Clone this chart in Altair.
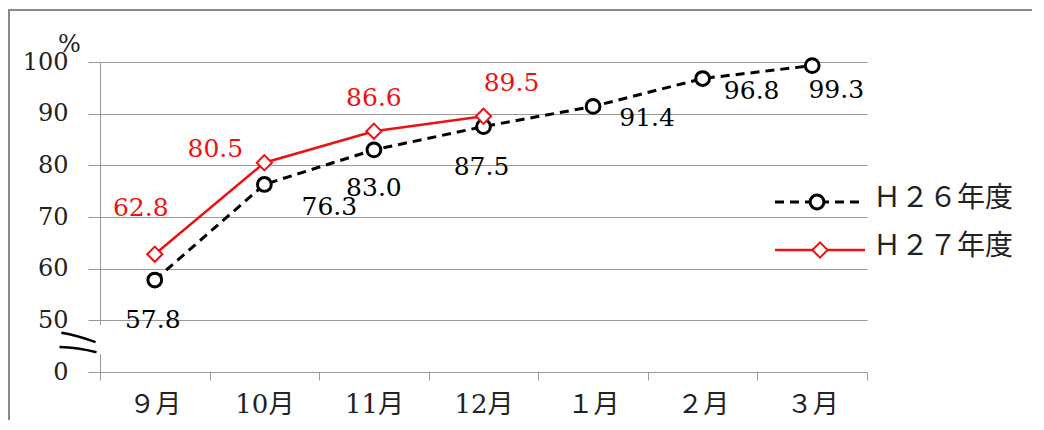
import altair as alt
import pandas as pd

months = ["９月", "10月", "11月", "12月", "１月", "２月", "３月"]
h26_values = [57.8, 76.3, 83.0, 87.5, 91.4, 96.8, 99.3]
h27_values = [62.8, 80.5, 86.6, 89.5]
series_names = ["Ｈ２６年度", "Ｈ２７年度"]
y_ticks = [40, 50, 60, 70, 80, 90, 100]

rows = []
for m, v in zip(months, h26_values):
    rows.append({"month": m, "value": v, "series": series_names[0]})
for m, v in zip(months, h27_values):
    rows.append({"month": m, "value": v, "series": series_names[1]})
df = pd.DataFrame(rows)

# label offsets (layout only)
label_offsets = {
    (series_names[0], "９月"): (-2, 40),
    (series_names[0], "10月"): (65, 23),
    (series_names[0], "11月"): (0, 38),
    (series_names[0], "12月"): (-2, 40),
    (series_names[0], "１月"): (54, 12),
    (series_names[0], "２月"): (49, 12),
    (series_names[0], "３月"): (24, 24),
    (series_names[1], "９月"): (-14, -46),
    (series_names[1], "10月"): (-49, -14),
    (series_names[1], "11月"): (0, -33),
    (series_names[1], "12月"): (28, -33),
}

BLACK = "#000000"
RED = "#ee1111"
GRID = "#9a9a9a"
NUMFONT = "DejaVu Serif"
JPFONT = "DejaVu Serif, Noto Sans CJK JP"

x_enc = alt.X(
    "month:N",
    sort=months,
    bandPosition=0.5,
    scale=alt.Scale(type="band", paddingInner=0, paddingOuter=0),
    axis=alt.Axis(
        title=None, labelAngle=0, tickBand="extent", grid=False,
        domainColor=GRID, tickColor=GRID, tickSize=8,
        labelFont=JPFONT, labelFontSize=26, labelColor="#222222",
        labelPadding=11,
    ),
)
y_enc = alt.Y(
    "value:Q",
    scale=alt.Scale(domain=[40, 100], nice=False, zero=False),
    axis=alt.Axis(
        values=y_ticks,
        labelExpr="datum.value == 40 ? '0' : datum.label",
        grid=True, gridColor=GRID, gridWidth=1,
        domainColor=GRID, tickColor=GRID, tickSize=12,
        labelFont=NUMFONT, labelFontSize=24, labelColor="#222222",
        labelPadding=20,
        title="%", titleAngle=0, titleX=-31, titleY=-18,
        titleAlign="center", titleBaseline="middle",
        titleFont=NUMFONT, titleFontSize=24, titleFontWeight="normal",
        titleColor="#222222",
    ),
)

base = alt.Chart(df)
s26 = base.transform_filter(alt.datum.series == series_names[0])
s27 = base.transform_filter(alt.datum.series == series_names[1])

line26 = s26.mark_line(color=BLACK, strokeWidth=3, strokeDash=[9, 6]).encode(x=x_enc, y=y_enc)
pts26 = s26.mark_point(shape="circle", filled=True, fill="white", stroke=BLACK,
                       strokeWidth=3, size=190, opacity=1).encode(x=x_enc, y=y_enc)
line27 = s27.mark_line(color=RED, strokeWidth=2.5).encode(x=x_enc, y=y_enc)
pts27 = s27.mark_point(shape="diamond", filled=True, fill="white", stroke=RED,
                       strokeWidth=2, size=230, opacity=1).encode(x=x_enc, y=y_enc)

label_layers = []
for (ser, m), (dx, dy) in label_offsets.items():
    col = BLACK if ser == series_names[0] else RED
    label_layers.append(
        base.transform_filter((alt.datum.series == ser) & (alt.datum.month == m))
        .mark_text(dx=dx, dy=dy, font=NUMFONT, fontSize=25, color=col,
                   align="center", baseline="middle")
        .encode(x=x_enc, y=y_enc, text=alt.Text("value:Q", format=".1f"))
    )

one = alt.Data(values=[{}])

# legend (manual)
leg_line26 = alt.Chart(one).mark_rule(color=BLACK, strokeWidth=3, strokeDash=[9, 6]).encode(
    x=alt.value(675), x2=alt.value(765), y=alt.value(140))
leg_pt26 = alt.Chart(one).mark_point(shape="circle", filled=True, fill="white", stroke=BLACK,
                                     strokeWidth=3, size=190, opacity=1).encode(
    x=alt.value(717), y=alt.value(140))
leg_txt26 = alt.Chart(one).mark_text(align="left", baseline="middle", font="Noto Sans CJK JP",
                                     fontSize=28, color="#222222").encode(
    x=alt.value(773), y=alt.value(137), text=alt.value(series_names[0]))
leg_line27 = alt.Chart(one).mark_rule(color=RED, strokeWidth=2.5).encode(
    x=alt.value(675), x2=alt.value(765), y=alt.value(188))
leg_pt27 = alt.Chart(one).mark_point(shape="diamond", filled=True, fill="white", stroke=RED,
                                     strokeWidth=2, size=230, opacity=1).encode(
    x=alt.value(720), y=alt.value(188))
leg_txt27 = alt.Chart(one).mark_text(align="left", baseline="middle", font="Noto Sans CJK JP",
                                     fontSize=28, color="#222222").encode(
    x=alt.value(773), y=alt.value(185), text=alt.value(series_names[1]))

# axis break
gap = alt.Chart(one).mark_rect(color="white").encode(
    x=alt.value(-3), x2=alt.value(3), y=alt.value(263), y2=alt.value(292))
break_path = ("M -0.9 -0.55 Q -0.2 -0.45 0.95 -0.05 "
              "M -1 0.22 Q 0 0.25 1 0.5")
brk = alt.Chart(one).mark_point(shape=break_path, filled=False, stroke=BLACK,
                                strokeWidth=2.5, size=1369, opacity=1).encode(
    x=alt.value(-22), y=alt.value(281))

# outer frame
frame = alt.Chart(one).mark_rect(fill=None, fillOpacity=0, stroke="#8a8a8a", strokeWidth=2).encode(
    x=alt.value(-91), x2=alt.value(2000), y=alt.value(-52), y2=alt.value(2000))

chart = alt.layer(
    line26, pts26, line27, pts27, *label_layers,
    gap, brk,
    leg_line26, leg_pt26, leg_txt26, leg_line27, leg_pt27, leg_txt27,
    frame,
).properties(
    width=767, height=310,
    padding={"left": 92, "top": 54, "right": 165, "bottom": 48},
    autosize=alt.AutoSizeParams(type="none"),
    background="white",
).configure_view(stroke=None)

chart.save("out.html", embed_options={"renderer": "svg", "actions": False})
